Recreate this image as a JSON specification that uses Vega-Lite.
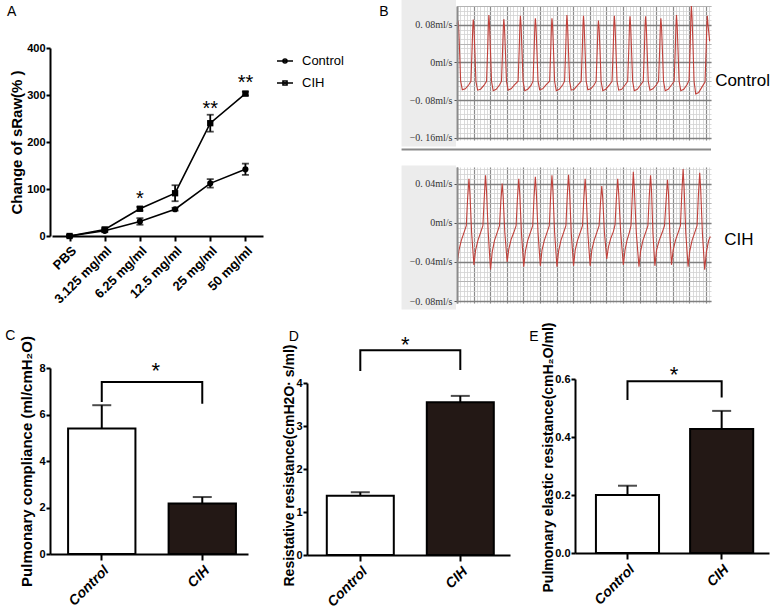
{
"$schema":"https://vega.github.io/schema/vega-lite/v6.json",
"width":780,"height":612,"autosize":"none","padding":0,"background":"white",
"config":{"view":{"stroke":null},"font":"Liberation Sans",
 "axis":{"domainColor":"black","domainWidth":2,"tickColor":"black","tickWidth":2,"labelColor":"black","titleColor":"black","labelFontWeight":"bold","titleFontWeight":"bold","labelFont":"Liberation Sans","titleFont":"Liberation Sans","grid":false,"labelOverlap":false,"labelFlush":false,"labelBound":false,"tickSize":5,"labelPadding":2},
 "text":{"font":"Liberation Sans","color":"black"}},
"datasets":{
 "sraw":[
  {"dose":"PBS","group":"Control","mean":0,"lo":-2,"hi":2},
  {"dose":"3.125 mg/ml","group":"Control","mean":11,"lo":8,"hi":14},
  {"dose":"6.25 mg/ml","group":"Control","mean":31,"lo":24,"hi":38},
  {"dose":"12.5 mg/ml","group":"Control","mean":57,"lo":54,"hi":60},
  {"dose":"25 mg/ml","group":"Control","mean":112,"lo":103,"hi":121},
  {"dose":"50 mg/ml","group":"Control","mean":142,"lo":130,"hi":154},
  {"dose":"PBS","group":"CIH","mean":0,"lo":-2,"hi":2},
  {"dose":"3.125 mg/ml","group":"CIH","mean":14,"lo":11,"hi":17},
  {"dose":"6.25 mg/ml","group":"CIH","mean":58,"lo":54,"hi":62},
  {"dose":"12.5 mg/ml","group":"CIH","mean":91,"lo":74,"hi":108},
  {"dose":"25 mg/ml","group":"CIH","mean":240,"lo":222,"hi":258},
  {"dose":"50 mg/ml","group":"CIH","mean":303,"lo":299,"hi":307}],
 "stars":[{"dose":"6.25 mg/ml","lab":"*","v":67},{"dose":"25 mg/ml","lab":"**","v":257},{"dose":"50 mg/ml","lab":"**","v":312}],
 "ctrl":[
  {"t":0,"v":0.082},{"t":0.3,"v":0.089},{"t":0.5,"v":0.075},{"t":0.8,"v":0.02},{"t":1.1,"v":-0.04},{"t":1.6,"v":-0.058},{"t":2.5,"v":-0.056},{"t":3.5,"v":-0.048},
  {"t":4.2,"v":-0.04},{"t":4.55,"v":0.03},{"t":4.75,"v":0.075},{"t":4.9,"v":0.091},{"t":5.1,"v":0.075},{"t":5.4,"v":0.02},{"t":5.7,"v":-0.04},{"t":6.2,"v":-0.059},{"t":7.1,"v":-0.057},{"t":8.1,"v":-0.049},
  {"t":8.9,"v":-0.04},{"t":9.25,"v":0.03},{"t":9.45,"v":0.08},{"t":9.6,"v":0.101},{"t":9.8,"v":0.08},{"t":10.1,"v":0.02},{"t":10.4,"v":-0.04},{"t":10.9,"v":-0.06},{"t":11.8,"v":-0.057},{"t":12.8,"v":-0.048},
  {"t":13.4,"v":-0.04},{"t":13.75,"v":0.03},{"t":13.95,"v":0.075},{"t":14.1,"v":0.092},{"t":14.3,"v":0.075},{"t":14.6,"v":0.02},{"t":14.9,"v":-0.04},{"t":15.4,"v":-0.059},{"t":16.3,"v":-0.056},{"t":17.3,"v":-0.048},
  {"t":18.4,"v":-0.04},{"t":18.75,"v":0.03},{"t":18.95,"v":0.08},{"t":19.1,"v":0.099},{"t":19.3,"v":0.078},{"t":19.6,"v":0.02},{"t":19.9,"v":-0.04},{"t":20.4,"v":-0.06},{"t":21.3,"v":-0.057},{"t":22.3,"v":-0.049},
  {"t":22.9,"v":-0.04},{"t":23.25,"v":0.03},{"t":23.45,"v":0.077},{"t":23.6,"v":0.094},{"t":23.8,"v":0.076},{"t":24.1,"v":0.02},{"t":24.4,"v":-0.04},{"t":24.9,"v":-0.058},{"t":25.8,"v":-0.056},{"t":26.8,"v":-0.048},
  {"t":27.9,"v":-0.04},{"t":28.25,"v":0.03},{"t":28.45,"v":0.077},{"t":28.6,"v":0.094},{"t":28.8,"v":0.076},{"t":29.1,"v":0.02},{"t":29.4,"v":-0.04},{"t":29.9,"v":-0.06},{"t":30.8,"v":-0.057},{"t":31.8,"v":-0.048},
  {"t":32.4,"v":-0.04},{"t":32.75,"v":0.03},{"t":32.95,"v":0.08},{"t":33.1,"v":0.101},{"t":33.3,"v":0.08},{"t":33.6,"v":0.02},{"t":33.9,"v":-0.04},{"t":34.4,"v":-0.059},{"t":35.3,"v":-0.057},{"t":36.3,"v":-0.049},
  {"t":37.4,"v":-0.04},{"t":37.75,"v":0.03},{"t":37.95,"v":0.08},{"t":38.1,"v":0.099},{"t":38.3,"v":0.078},{"t":38.6,"v":0.02},{"t":38.9,"v":-0.04},{"t":39.4,"v":-0.058},{"t":40.3,"v":-0.056},{"t":41.3,"v":-0.048},
  {"t":41.9,"v":-0.04},{"t":42.25,"v":0.03},{"t":42.45,"v":0.074},{"t":42.6,"v":0.089},{"t":42.8,"v":0.073},{"t":43.1,"v":0.02},{"t":43.4,"v":-0.04},{"t":43.9,"v":-0.06},{"t":44.8,"v":-0.057},{"t":45.8,"v":-0.049},
  {"t":46.7,"v":-0.04},{"t":47.05,"v":0.03},{"t":47.25,"v":0.08},{"t":47.4,"v":0.099},{"t":47.6,"v":0.078},{"t":47.9,"v":0.02},{"t":48.2,"v":-0.04},{"t":48.7,"v":-0.059},{"t":49.6,"v":-0.057},{"t":50.6,"v":-0.048},
  {"t":51.4,"v":-0.04},{"t":51.75,"v":0.03},{"t":51.95,"v":0.08},{"t":52.1,"v":0.098},{"t":52.3,"v":0.078},{"t":52.6,"v":0.02},{"t":52.9,"v":-0.04},{"t":53.4,"v":-0.06},{"t":54.3,"v":-0.057},{"t":55.3,"v":-0.048},
  {"t":56.1,"v":-0.04},{"t":56.45,"v":0.03},{"t":56.65,"v":0.08},{"t":56.8,"v":0.098},{"t":57,"v":0.078},{"t":57.3,"v":0.02},{"t":57.6,"v":-0.04},{"t":58.1,"v":-0.059},{"t":59,"v":-0.056},{"t":60,"v":-0.048},
  {"t":60.7,"v":-0.04},{"t":61.05,"v":0.03},{"t":61.25,"v":0.077},{"t":61.4,"v":0.094},{"t":61.6,"v":0.076},{"t":61.9,"v":0.02},{"t":62.2,"v":-0.04},{"t":62.7,"v":-0.06},{"t":63.6,"v":-0.057},{"t":64.6,"v":-0.048},
  {"t":65.4,"v":-0.04},{"t":65.75,"v":0.03},{"t":65.95,"v":0.08},{"t":66.1,"v":0.101},{"t":66.3,"v":0.08},{"t":66.6,"v":0.02},{"t":66.9,"v":-0.04},{"t":67.4,"v":-0.06},{"t":68.3,"v":-0.057},{"t":69.3,"v":-0.047},
  {"t":69.9,"v":-0.038},{"t":70.25,"v":0.04},{"t":70.45,"v":0.1},{"t":70.6,"v":0.12},{"t":70.8,"v":0.095},{"t":71.1,"v":0.03},{"t":71.4,"v":-0.04},{"t":71.9,"v":-0.067},{"t":72.8,"v":-0.064},{"t":73.8,"v":-0.052},
  {"t":74.7,"v":-0.042},{"t":75.05,"v":0.03},{"t":75.25,"v":0.08},{"t":75.4,"v":0.099},{"t":75.6,"v":0.08},{"t":76.1,"v":0.045}],
 "cih":[
  {"t":0,"v":-0.04},{"t":0.1,"v":-0.041},{"t":0.6,"v":-0.028},{"t":1.3,"v":-0.018},{"t":2.1,"v":-0.01},{"t":2.8,"v":-0.003},{"t":3.2,"v":0.025},{"t":3.6,"v":0.045},{"t":3.9,"v":0.03},{"t":4.4,"v":-0.01},
  {"t":5.1,"v":-0.043},{"t":5.6,"v":-0.028},{"t":6.3,"v":-0.018},{"t":7.1,"v":-0.01},{"t":7.8,"v":-0.003},{"t":8.2,"v":0.025},{"t":8.6,"v":0.0485},{"t":8.9,"v":0.032},{"t":9.4,"v":-0.01},
  {"t":10.1,"v":-0.048},{"t":10.6,"v":-0.03},{"t":11.3,"v":-0.018},{"t":12.1,"v":-0.01},{"t":12.8,"v":-0.003},{"t":13.2,"v":0.022},{"t":13.6,"v":0.04},{"t":13.9,"v":0.027},{"t":14.4,"v":-0.01},
  {"t":15.1,"v":-0.04},{"t":15.6,"v":-0.027},{"t":16.3,"v":-0.017},{"t":17.1,"v":-0.01},{"t":17.8,"v":-0.003},{"t":18.2,"v":0.025},{"t":18.6,"v":0.045},{"t":18.9,"v":0.03},{"t":19.4,"v":-0.01},
  {"t":20.1,"v":-0.045},{"t":20.6,"v":-0.029},{"t":21.3,"v":-0.018},{"t":22.1,"v":-0.01},{"t":22.8,"v":-0.003},{"t":23.2,"v":0.026},{"t":23.6,"v":0.047},{"t":23.9,"v":0.031},{"t":24.4,"v":-0.01},
  {"t":25.1,"v":-0.044},{"t":25.6,"v":-0.028},{"t":26.3,"v":-0.018},{"t":27.1,"v":-0.01},{"t":27.8,"v":-0.003},{"t":28.2,"v":0.027},{"t":28.6,"v":0.0485},{"t":28.9,"v":0.032},{"t":29.4,"v":-0.01},
  {"t":30.1,"v":-0.045},{"t":30.6,"v":-0.029},{"t":31.3,"v":-0.018},{"t":32.1,"v":-0.01},{"t":32.8,"v":-0.003},{"t":33.2,"v":0.027},{"t":33.6,"v":0.049},{"t":33.9,"v":0.033},{"t":34.4,"v":-0.01},
  {"t":35.1,"v":-0.044},{"t":35.6,"v":-0.028},{"t":36.3,"v":-0.018},{"t":37.1,"v":-0.01},{"t":37.8,"v":-0.003},{"t":38.2,"v":0.025},{"t":38.6,"v":0.045},{"t":38.9,"v":0.03},{"t":39.4,"v":-0.01},
  {"t":40.1,"v":-0.044},{"t":40.6,"v":-0.028},{"t":41.3,"v":-0.018},{"t":42.1,"v":-0.01},{"t":42.8,"v":-0.003},{"t":43.2,"v":0.02},{"t":43.6,"v":0.0376},{"t":43.9,"v":0.025},{"t":44.4,"v":-0.01},
  {"t":45.1,"v":-0.037},{"t":45.6,"v":-0.025},{"t":46.3,"v":-0.016},{"t":47.1,"v":-0.009},{"t":47.6,"v":-0.002},{"t":48,"v":0.025},{"t":48.4,"v":0.045},{"t":48.7,"v":0.03},{"t":49.3,"v":-0.01},
  {"t":50.1,"v":-0.043},{"t":50.6,"v":-0.028},{"t":51.2,"v":-0.018},{"t":51.9,"v":-0.01},{"t":52.4,"v":-0.003},{"t":52.8,"v":0.028},{"t":53.1,"v":0.052},{"t":53.4,"v":0.035},{"t":54,"v":-0.01},
  {"t":54.8,"v":-0.045},{"t":55.3,"v":-0.029},{"t":56,"v":-0.018},{"t":56.8,"v":-0.01},{"t":57.5,"v":-0.003},{"t":57.9,"v":0.027},{"t":58.3,"v":0.0485},{"t":58.6,"v":0.032},{"t":59,"v":-0.01},
  {"t":59.6,"v":-0.044},{"t":60.1,"v":-0.028},{"t":60.9,"v":-0.018},{"t":61.8,"v":-0.01},{"t":62.5,"v":-0.003},{"t":63,"v":0.024},{"t":63.4,"v":0.044},{"t":63.7,"v":0.03},{"t":64.1,"v":-0.01},
  {"t":64.6,"v":-0.043},{"t":65.1,"v":-0.028},{"t":65.8,"v":-0.018},{"t":66.6,"v":-0.01},{"t":67.3,"v":-0.003},{"t":67.7,"v":0.03},{"t":68.1,"v":0.055},{"t":68.4,"v":0.036},{"t":68.9,"v":-0.01},
  {"t":69.6,"v":-0.045},{"t":70.1,"v":-0.029},{"t":70.8,"v":-0.018},{"t":71.6,"v":-0.01},{"t":72.3,"v":-0.003},{"t":72.7,"v":0.028},{"t":73.1,"v":0.051},{"t":73.4,"v":0.034},{"t":73.9,"v":-0.01},
  {"t":74.6,"v":-0.048},{"t":75.1,"v":-0.03},{"t":75.8,"v":-0.018},{"t":76.3,"v":-0.014}],
 "compl":[{"g":"Control","mean":5.4,"hi":6.4},{"g":"CIH","mean":2.17,"hi":2.45}],
 "brC":[{"g":"Control","v":6.54,"o":1},{"g":"Control","v":7.4,"o":2},{"g":"CIH","v":7.4,"o":3},{"g":"CIH","v":6.46,"o":4}],
 "resist":[{"g":"Control","mean":1.38,"hi":1.46},{"g":"CIH","mean":3.55,"hi":3.7}],
 "brD":[{"g":"Control","v":4.28,"o":1},{"g":"Control","v":4.76,"o":2},{"g":"CIH","v":4.76,"o":3},{"g":"CIH","v":4.3,"o":4}],
 "elast":[{"g":"Control","mean":0.2,"hi":0.232},{"g":"CIH","mean":0.428,"hi":0.49}],
 "brE":[{"g":"Control","v":0.528,"o":1},{"g":"Control","v":0.592,"o":2},{"g":"CIH","v":0.592,"o":3},{"g":"CIH","v":0.536,"o":4}]
},
"resolve":{"scale":{"x":"independent","y":"independent"},"axis":{"x":"independent","y":"independent"}},
"layer":[
 {"resolve":{"axis":{"x":"independent","y":"independent"}},
  "layer":[
  {"data":{"name":"sraw"},"mark":{"type":"line","color":"black","strokeWidth":1.6},
   "encoding":{
    "x":{"field":"dose","type":"ordinal","scale":{"type":"point","domain":["PBS","3.125 mg/ml","6.25 mg/ml","12.5 mg/ml","25 mg/ml","50 mg/ml"],"range":[52,263],"padding":0.5},
         "axis":{"orient":"bottom","offset":-376,"title":null,"labelAngle":-45,"labelFontSize":13,"tickSize":5,"labelPadding":3}},
    "y":{"field":"mean","type":"quantitative","scale":{"domain":[0,400],"range":[236,48],"nice":false,"zero":false},
         "axis":{"orient":"left","offset":-50,"values":[0,100,200,300,400],"title":"Change of sRaw(% )","titleFontSize":15,"titlePadding":2,"labelFontSize":11,"labelFont":"Liberation Sans Narrow, Liberation Sans","tickSize":4,"labelPadding":1}},
    "detail":{"field":"group"}}},
  {"data":{"name":"sraw"},"mark":{"type":"rule","color":"black","strokeWidth":1.8},
   "encoding":{
    "x":{"field":"dose","type":"ordinal","scale":{"type":"point","domain":["PBS","3.125 mg/ml","6.25 mg/ml","12.5 mg/ml","25 mg/ml","50 mg/ml"],"range":[52,263],"padding":0.5},"axis":null},
    "y":{"field":"lo","type":"quantitative","scale":{"domain":[0,400],"range":[236,48],"nice":false,"zero":false},"axis":null},
    "y2":{"field":"hi"}}},
  {"data":{"name":"sraw"},"mark":{"type":"tick","color":"black","thickness":1.8,"size":7},
   "encoding":{
    "x":{"field":"dose","type":"ordinal","scale":{"type":"point","domain":["PBS","3.125 mg/ml","6.25 mg/ml","12.5 mg/ml","25 mg/ml","50 mg/ml"],"range":[52,263],"padding":0.5},"axis":null},
    "y":{"field":"lo","type":"quantitative","scale":{"domain":[0,400],"range":[236,48],"nice":false,"zero":false},"axis":null}}},
  {"data":{"name":"sraw"},"mark":{"type":"tick","color":"black","thickness":1.8,"size":7},
   "encoding":{
    "x":{"field":"dose","type":"ordinal","scale":{"type":"point","domain":["PBS","3.125 mg/ml","6.25 mg/ml","12.5 mg/ml","25 mg/ml","50 mg/ml"],"range":[52,263],"padding":0.5},"axis":null},
    "y":{"field":"hi","type":"quantitative","scale":{"domain":[0,400],"range":[236,48],"nice":false,"zero":false},"axis":null}}},
  {"data":{"name":"sraw"},"transform":[{"filter":"datum.group === 'Control'"}],"mark":{"type":"point","shape":"circle","filled":true,"color":"black","size":38,"opacity":1},
   "encoding":{
    "x":{"field":"dose","type":"ordinal","scale":{"type":"point","domain":["PBS","3.125 mg/ml","6.25 mg/ml","12.5 mg/ml","25 mg/ml","50 mg/ml"],"range":[52,263],"padding":0.5},"axis":null},
    "y":{"field":"mean","type":"quantitative","scale":{"domain":[0,400],"range":[236,48],"nice":false,"zero":false},"axis":null}}},
  {"data":{"name":"sraw"},"transform":[{"filter":"datum.group === 'CIH'"}],"mark":{"type":"point","shape":"square","filled":true,"color":"black","size":40,"opacity":1},
   "encoding":{
    "x":{"field":"dose","type":"ordinal","scale":{"type":"point","domain":["PBS","3.125 mg/ml","6.25 mg/ml","12.5 mg/ml","25 mg/ml","50 mg/ml"],"range":[52,263],"padding":0.5},"axis":null},
    "y":{"field":"mean","type":"quantitative","scale":{"domain":[0,400],"range":[236,48],"nice":false,"zero":false},"axis":null}}},
  {"data":{"name":"sraw"},"transform":[{"filter":"false"}],"mark":{"type":"point","filled":false,"color":"black","strokeWidth":1.6,"opacity":1},
   "encoding":{
    "x":{"field":"dose","type":"ordinal","scale":{"type":"point","domain":["PBS","3.125 mg/ml","6.25 mg/ml","12.5 mg/ml","25 mg/ml","50 mg/ml"],"range":[52,263],"padding":0.5},"axis":null},
    "y":{"field":"mean","type":"quantitative","scale":{"domain":[0,400],"range":[236,48],"nice":false,"zero":false},"axis":null},
    "shape":{"field":"group","type":"nominal","scale":{"domain":["Control","CIH"],"range":["M-1,0H1M0.25,0A0.25,0.25,0,1,1,-0.25,0A0.25,0.25,0,1,1,0.25,0M0,-0.12V0.12","M-1,0H1M-0.25,-0.25H0.25V0.25H-0.25ZM0,-0.12V0.12"]},
      "legend":{"orient":"none","legendX":276,"legendY":52,"title":null,"labelFont":"Liberation Sans","labelFontSize":13,"labelFontWeight":"normal","labelColor":"black","symbolSize":256,"symbolStrokeWidth":1.6,"symbolStrokeColor":"black","symbolOpacity":1,"labelOffset":8,"rowPadding":6}}}},
  {"data":{"name":"stars"},"mark":{"type":"text","fontSize":20,"align":"center","baseline":"alphabetic"},
   "encoding":{
    "x":{"field":"dose","type":"ordinal","scale":{"type":"point","domain":["PBS","3.125 mg/ml","6.25 mg/ml","12.5 mg/ml","25 mg/ml","50 mg/ml"],"range":[52,263],"padding":0.5},"axis":null},
    "y":{"field":"v","type":"quantitative","scale":{"domain":[0,400],"range":[236,48],"nice":false,"zero":false},"axis":null},
    "text":{"field":"lab"}}},
  {"data":{"values":[{}]},"mark":{"type":"text","text":"A","fontSize":14,"dx":-58,"align":"center","baseline":"middle"},
   "encoding":{
    "x":{"datum":"PBS","type":"ordinal","scale":{"type":"point","domain":["PBS","3.125 mg/ml","6.25 mg/ml","12.5 mg/ml","25 mg/ml","50 mg/ml"],"range":[52,263],"padding":0.5},"axis":null},
    "y":{"datum":476,"type":"quantitative","scale":{"domain":[0,400],"range":[236,48],"nice":false,"zero":false},"axis":null}}}
 ]},
 {"resolve":{"axis":{"x":"independent","y":"independent"}},
  "layer":[
  {"data":{"values":[{}]},"mark":{"type":"rect","color":"#ececec"},
   "encoding":{"x":{"datum":-16.7,"type":"quantitative","scale":{"domain":[0,76.5],"range":[457,711],"nice":false,"zero":false},"axis":null},"x2":{"datum":-0.3},
    "y":{"datum":0.133,"type":"quantitative","scale":{"domain":[-0.165,0.12],"range":[140,6],"nice":false,"zero":false},"axis":null},"y2":{"datum":-0.179}}},
  {"data":{"values":[{}]},"mark":{"type":"point","opacity":0},
   "encoding":{"x":{"datum":0,"type":"quantitative","scale":{"domain":[0,76.5],"range":[457,711],"nice":false,"zero":false},
     "axis":{"orient":"top","offset":0,"grid":true,"gridColor":"#d2d2d2","gridWidth":0.8,"domain":false,"ticks":false,"labels":false,"title":null,
      "values":[0,1,2,3,4,5,6,7,8,9,10,11,12,13,14,15,16,17,18,19,20,21,22,23,24,25,26,27,28,29,30,31,32,33,34,35,36,37,38,39,40,41,42,43,44,45,46,47,48,49,50,51,52,53,54,55,56,57,58,59,60,61,62,63,64,65,66,67,68,69,70,71,72,73,74,75,76]}},
    "y":{"datum":0,"type":"quantitative","scale":{"domain":[-0.165,0.12],"range":[140,6],"nice":false,"zero":false},
     "axis":{"orient":"left","offset":-457,"grid":true,"gridColor":"#d2d2d2","gridWidth":0.8,"domain":false,"ticks":false,"labels":false,"title":null,
      "values":[-0.16,-0.15,-0.14,-0.13,-0.12,-0.11,-0.1,-0.09,-0.08,-0.07,-0.06,-0.05,-0.04,-0.03,-0.02,-0.01,0,0.01,0.02,0.03,0.04,0.05,0.06,0.07,0.08,0.09,0.1,0.11,0.12]}}}},
  {"data":{"values":[{}]},"mark":{"type":"point","opacity":0},
   "encoding":{"x":{"datum":0,"type":"quantitative","scale":{"domain":[0,76.5],"range":[457,711],"nice":false,"zero":false},"axis":null},
    "y":{"datum":0,"type":"quantitative","scale":{"domain":[-0.165,0.12],"range":[140,6],"nice":false,"zero":false},
     "axis":{"orient":"left","offset":-457,"grid":true,"gridColor":"#b4b4b4","gridWidth":1,"domain":false,"ticks":false,"labels":false,"title":null,"values":[-0.12,-0.04,0.04,0.12]}}}},
  {"data":{"values":[{}]},"mark":{"type":"point","opacity":0},
   "encoding":{"x":{"datum":0,"type":"quantitative","scale":{"domain":[0,76.5],"range":[457,711],"nice":false,"zero":false},
     "axis":{"orient":"top","offset":0,"grid":true,"gridColor":"#8c8c8c","gridWidth":1.2,"domain":false,"ticks":false,"labels":false,"title":null,"values":[0,5,10,15,20,25,30,35,40,45,50,55,60,65,70,75]}},
    "y":{"datum":0,"type":"quantitative","scale":{"domain":[-0.165,0.12],"range":[140,6],"nice":false,"zero":false},
     "axis":{"orient":"left","offset":-457,"grid":true,"gridColor":"#808080","gridWidth":1.3,"domain":false,"ticks":false,"labels":false,"title":null,"values":[-0.16,-0.08,0,0.08]}}}},
  {"data":{"name":"ctrl"},"mark":{"type":"line","color":"#c0403a","strokeWidth":1.1},
   "encoding":{"x":{"field":"t","type":"quantitative","scale":{"domain":[0,76.5],"range":[457,711],"nice":false,"zero":false},"axis":null},
    "y":{"field":"v","type":"quantitative","scale":{"domain":[-0.165,0.12],"range":[140,6],"nice":false,"zero":false},
     "axis":{"orient":"left","offset":-457,"zindex":1,"values":[-0.16,-0.08,0,0.08],"title":null,"labelFont":"Liberation Serif","labelFontWeight":"normal","labelFontSize":10,"labelColor":"#333333","tickColor":"#555555","tickWidth":1,"tickSize":3,"labelPadding":2,"domainColor":"#8a8a8a","domainWidth":2,
      "labelExpr":"datum.value == 0 ? '0ml/s' : replace(format(datum.value, '.2f'), '.', '. ') + 'ml/s'"}}}},
  {"data":{"values":[{}]},"mark":{"type":"rule","color":"#8a8a8a","strokeWidth":2},
   "encoding":{"x":{"datum":-16.7,"type":"quantitative","scale":{"domain":[0,76.5],"range":[457,711],"nice":false,"zero":false},"axis":null},"x2":{"datum":76.5},
    "y":{"datum":-0.1854,"type":"quantitative","scale":{"domain":[-0.165,0.12],"range":[140,6],"nice":false,"zero":false},"axis":null}}},
  {"data":{"values":[{}]},"mark":{"type":"text","text":"Control","fontSize":17,"align":"center","baseline":"middle"},
   "encoding":{"x":{"datum":86,"type":"quantitative","scale":{"domain":[0,76.5],"range":[457,711],"nice":false,"zero":false},"axis":null},
    "y":{"datum":-0.039,"type":"quantitative","scale":{"domain":[-0.165,0.12],"range":[140,6],"nice":false,"zero":false},"axis":null}}},
  {"data":{"values":[{}]},"mark":{"type":"text","text":"B","fontSize":14,"align":"center","baseline":"middle"},
   "encoding":{"x":{"datum":-22,"type":"quantitative","scale":{"domain":[0,76.5],"range":[457,711],"nice":false,"zero":false},"axis":null},
    "y":{"datum":0.1066,"type":"quantitative","scale":{"domain":[-0.165,0.12],"range":[140,6],"nice":false,"zero":false},"axis":null}}}
 ]},
 {"resolve":{"axis":{"x":"independent","y":"independent"}},
  "layer":[
  {"data":{"values":[{}]},"mark":{"type":"rect","color":"#ececec"},
   "encoding":{"x":{"datum":-16.7,"type":"quantitative","scale":{"domain":[0,76.5],"range":[457,711],"nice":false,"zero":false},"axis":null},"x2":{"datum":-0.3},
    "y":{"datum":0.0586,"type":"quantitative","scale":{"domain":[-0.082,0.057],"range":[303,167],"nice":false,"zero":false},"axis":null},"y2":{"datum":-0.0886}}},
  {"data":{"values":[{}]},"mark":{"type":"point","opacity":0},
   "encoding":{"x":{"datum":0,"type":"quantitative","scale":{"domain":[0,76.5],"range":[457,711],"nice":false,"zero":false},
     "axis":{"orient":"top","offset":0,"grid":true,"gridColor":"#d2d2d2","gridWidth":0.8,"domain":false,"ticks":false,"labels":false,"title":null,
      "values":[0,1,2,3,4,5,6,7,8,9,10,11,12,13,14,15,16,17,18,19,20,21,22,23,24,25,26,27,28,29,30,31,32,33,34,35,36,37,38,39,40,41,42,43,44,45,46,47,48,49,50,51,52,53,54,55,56,57,58,59,60,61,62,63,64,65,66,67,68,69,70,71,72,73,74,75,76]}},
    "y":{"datum":0,"type":"quantitative","scale":{"domain":[-0.082,0.057],"range":[303,167],"nice":false,"zero":false},
     "axis":{"orient":"left","offset":-457,"grid":true,"gridColor":"#d2d2d2","gridWidth":0.8,"domain":false,"ticks":false,"labels":false,"title":null,
      "values":[-0.08,-0.075,-0.07,-0.065,-0.06,-0.055,-0.05,-0.045,-0.04,-0.035,-0.03,-0.025,-0.02,-0.015,-0.01,-0.005,0,0.005,0.01,0.015,0.02,0.025,0.03,0.035,0.04,0.045,0.05,0.055]}}}},
  {"data":{"values":[{}]},"mark":{"type":"point","opacity":0},
   "encoding":{"x":{"datum":0,"type":"quantitative","scale":{"domain":[0,76.5],"range":[457,711],"nice":false,"zero":false},"axis":null},
    "y":{"datum":0,"type":"quantitative","scale":{"domain":[-0.082,0.057],"range":[303,167],"nice":false,"zero":false},
     "axis":{"orient":"left","offset":-457,"grid":true,"gridColor":"#b4b4b4","gridWidth":1,"domain":false,"ticks":false,"labels":false,"title":null,"values":[-0.06,-0.02,0.02]}}}},
  {"data":{"values":[{}]},"mark":{"type":"point","opacity":0},
   "encoding":{"x":{"datum":0,"type":"quantitative","scale":{"domain":[0,76.5],"range":[457,711],"nice":false,"zero":false},
     "axis":{"orient":"top","offset":0,"grid":true,"gridColor":"#8c8c8c","gridWidth":1.2,"domain":false,"ticks":false,"labels":false,"title":null,"values":[0,5,10,15,20,25,30,35,40,45,50,55,60,65,70,75]}},
    "y":{"datum":0,"type":"quantitative","scale":{"domain":[-0.082,0.057],"range":[303,167],"nice":false,"zero":false},
     "axis":{"orient":"left","offset":-457,"grid":true,"gridColor":"#808080","gridWidth":1.3,"domain":false,"ticks":false,"labels":false,"title":null,"values":[-0.08,-0.04,0,0.04]}}}},
  {"data":{"name":"cih"},"mark":{"type":"line","color":"#c0403a","strokeWidth":1.1},
   "encoding":{"x":{"field":"t","type":"quantitative","scale":{"domain":[0,76.5],"range":[457,711],"nice":false,"zero":false},"axis":null},
    "y":{"field":"v","type":"quantitative","scale":{"domain":[-0.082,0.057],"range":[303,167],"nice":false,"zero":false},
     "axis":{"orient":"left","offset":-457,"zindex":1,"values":[-0.08,-0.04,0,0.04],"title":null,"labelFont":"Liberation Serif","labelFontWeight":"normal","labelFontSize":10,"labelColor":"#333333","tickColor":"#555555","tickWidth":1,"tickSize":3,"labelPadding":2,"domainColor":"#8a8a8a","domainWidth":2,
      "labelExpr":"datum.value == 0 ? '0ml/s' : replace(format(datum.value, '.2f'), '.', '. ') + 'ml/s'"}}}},
  {"data":{"values":[{}]},"mark":{"type":"text","text":"CIH","fontSize":17,"align":"center","baseline":"middle"},
   "encoding":{"x":{"datum":84.9,"type":"quantitative","scale":{"domain":[0,76.5],"range":[457,711],"nice":false,"zero":false},"axis":null},
    "y":{"datum":-0.0176,"type":"quantitative","scale":{"domain":[-0.082,0.057],"range":[303,167],"nice":false,"zero":false},"axis":null}}}
 ]},
 {"resolve":{"axis":{"x":"independent","y":"independent"}},
  "layer":[
  {"data":{"name":"compl"},"mark":{"type":"bar","stroke":"black","strokeWidth":2},
   "encoding":{
    "x":{"field":"g","type":"nominal","scale":{"type":"band","domain":["Control","CIH"],"range":[50,248],"paddingInner":0.33,"paddingOuter":0.15,"align":0.6},
      "axis":{"orient":"bottom","offset":-58,"title":null,"labelAngle":-45,"labelFontStyle":"italic","labelFontSize":14,"tickSize":6,"labelPadding":3}},
    "y":{"field":"mean","type":"quantitative","scale":{"domain":[0,8],"range":[554,368],"nice":false,"zero":false},
      "axis":{"orient":"left","offset":-50,"values":[0,2,4,6,8],"title":"Pulmonary compliance (ml/cmH₂O)","titleFontSize":15,"titlePadding":4,"labelFontSize":11,"labelFont":"Liberation Sans Narrow, Liberation Sans","tickSize":4,"labelPadding":1}},
    "fill":{"condition":{"test":"datum.g === 'CIH'","value":"#231815"},"value":"white"}}},
  {"data":{"name":"compl"},"mark":{"type":"rule","color":"black","strokeWidth":2},
   "encoding":{
    "x":{"field":"g","type":"nominal","scale":{"type":"band","domain":["Control","CIH"],"range":[50,248],"paddingInner":0.33,"paddingOuter":0.15,"align":0.6},"axis":null},
    "y":{"field":"mean","type":"quantitative","scale":{"domain":[0,8],"range":[554,368],"nice":false,"zero":false},"axis":null},
    "y2":{"field":"hi"}}},
  {"data":{"name":"compl"},"mark":{"type":"tick","color":"black","thickness":2,"size":19},
   "encoding":{
    "x":{"field":"g","type":"nominal","scale":{"type":"band","domain":["Control","CIH"],"range":[50,248],"paddingInner":0.33,"paddingOuter":0.15,"align":0.6},"axis":null},
    "y":{"field":"hi","type":"quantitative","scale":{"domain":[0,8],"range":[554,368],"nice":false,"zero":false},"axis":null}}},
  {"data":{"name":"brC"},"mark":{"type":"line","color":"black","strokeWidth":2},
   "encoding":{
    "x":{"field":"g","type":"nominal","scale":{"type":"band","domain":["Control","CIH"],"range":[50,248],"paddingInner":0.33,"paddingOuter":0.15,"align":0.6},"axis":null},
    "y":{"field":"v","type":"quantitative","scale":{"domain":[0,8],"range":[554,368],"nice":false,"zero":false},"axis":null},
    "order":{"field":"o","type":"quantitative"}}},
  {"data":{"values":[{}]},"mark":{"type":"text","text":"*","fontSize":22,"dx":54,"align":"center","baseline":"alphabetic"},
   "encoding":{
    "x":{"datum":"Control","type":"nominal","scale":{"type":"band","domain":["Control","CIH"],"range":[50,248],"paddingInner":0.33,"paddingOuter":0.15,"align":0.6},"axis":null},
    "y":{"datum":7.58,"type":"quantitative","scale":{"domain":[0,8],"range":[554,368],"nice":false,"zero":false},"axis":null}}},
  {"data":{"values":[{}]},"mark":{"type":"text","text":"C","fontSize":14,"dx":-91.5,"align":"center","baseline":"middle"},
   "encoding":{
    "x":{"datum":"Control","type":"nominal","scale":{"type":"band","domain":["Control","CIH"],"range":[50,248],"paddingInner":0.33,"paddingOuter":0.15,"align":0.6},"axis":null},
    "y":{"datum":9.36,"type":"quantitative","scale":{"domain":[0,8],"range":[554,368],"nice":false,"zero":false},"axis":null}}}
 ]},
 {"resolve":{"axis":{"x":"independent","y":"independent"}},
  "layer":[
  {"data":{"name":"resist"},"mark":{"type":"bar","stroke":"black","strokeWidth":2},
   "encoding":{
    "x":{"field":"g","type":"nominal","scale":{"type":"band","domain":["Control","CIH"],"range":[307,510],"paddingInner":0.33,"paddingOuter":0.18,"align":0.55},
      "axis":{"orient":"bottom","offset":-57,"title":null,"labelAngle":-45,"labelFontStyle":"italic","labelFontSize":14,"tickSize":6,"labelPadding":3}},
    "y":{"field":"mean","type":"quantitative","scale":{"domain":[0,4],"range":[555,383],"nice":false,"zero":false},
      "axis":{"orient":"left","offset":-307,"values":[0,1,2,3,4],"title":"Resistative resistance(cmH2O· s/ml)","titleFontSize":14,"titlePadding":-1,"titleY":465,"labelFontSize":11,"labelFont":"Liberation Sans Narrow, Liberation Sans","tickSize":4,"labelPadding":1}},
    "fill":{"condition":{"test":"datum.g === 'CIH'","value":"#231815"},"value":"white"}}},
  {"data":{"name":"resist"},"mark":{"type":"rule","color":"black","strokeWidth":2},
   "encoding":{
    "x":{"field":"g","type":"nominal","scale":{"type":"band","domain":["Control","CIH"],"range":[307,510],"paddingInner":0.33,"paddingOuter":0.18,"align":0.55},"axis":null},
    "y":{"field":"mean","type":"quantitative","scale":{"domain":[0,4],"range":[555,383],"nice":false,"zero":false},"axis":null},
    "y2":{"field":"hi"}}},
  {"data":{"name":"resist"},"mark":{"type":"tick","color":"black","thickness":2,"size":19},
   "encoding":{
    "x":{"field":"g","type":"nominal","scale":{"type":"band","domain":["Control","CIH"],"range":[307,510],"paddingInner":0.33,"paddingOuter":0.18,"align":0.55},"axis":null},
    "y":{"field":"hi","type":"quantitative","scale":{"domain":[0,4],"range":[555,383],"nice":false,"zero":false},"axis":null}}},
  {"data":{"name":"brD"},"mark":{"type":"line","color":"black","strokeWidth":2},
   "encoding":{
    "x":{"field":"g","type":"nominal","scale":{"type":"band","domain":["Control","CIH"],"range":[307,510],"paddingInner":0.33,"paddingOuter":0.18,"align":0.55},"axis":null},
    "y":{"field":"v","type":"quantitative","scale":{"domain":[0,4],"range":[555,383],"nice":false,"zero":false},"axis":null},
    "order":{"field":"o","type":"quantitative"}}},
  {"data":{"values":[{}]},"mark":{"type":"text","text":"*","fontSize":22,"dx":45,"align":"center","baseline":"alphabetic"},
   "encoding":{
    "x":{"datum":"Control","type":"nominal","scale":{"type":"band","domain":["Control","CIH"],"range":[307,510],"paddingInner":0.33,"paddingOuter":0.18,"align":0.55},"axis":null},
    "y":{"datum":4.73,"type":"quantitative","scale":{"domain":[0,4],"range":[555,383],"nice":false,"zero":false},"axis":null}}},
  {"data":{"values":[{}]},"mark":{"type":"text","text":"D","fontSize":14,"dx":-66.5,"align":"center","baseline":"middle"},
   "encoding":{
    "x":{"datum":"Control","type":"nominal","scale":{"type":"band","domain":["Control","CIH"],"range":[307,510],"paddingInner":0.33,"paddingOuter":0.18,"align":0.55},"axis":null},
    "y":{"datum":5.06,"type":"quantitative","scale":{"domain":[0,4],"range":[555,383],"nice":false,"zero":false},"axis":null}}}
 ]},
 {"resolve":{"axis":{"x":"independent","y":"independent"}},
  "layer":[
  {"data":{"name":"elast"},"mark":{"type":"bar","stroke":"black","strokeWidth":2},
   "encoding":{
    "x":{"field":"g","type":"nominal","scale":{"type":"band","domain":["Control","CIH"],"range":[575,769],"paddingInner":0.33,"paddingOuter":0.195,"align":0.57},
      "axis":{"orient":"bottom","offset":-59,"title":null,"labelAngle":-45,"labelFontStyle":"italic","labelFontSize":14,"tickSize":6,"labelPadding":3}},
    "y":{"field":"mean","type":"quantitative","scale":{"domain":[0,0.6],"range":[553,379],"nice":false,"zero":false},
      "axis":{"orient":"left","offset":-575,"values":[0,0.2,0.4,0.6],"format":".1f","title":"Pulmonary elastic resistance(cmH₂O/ml)","titleFontSize":14,"titlePadding":-1,"titleY":457,"labelFontSize":11,"labelFont":"Liberation Sans Narrow, Liberation Sans","tickSize":4,"labelPadding":1}},
    "fill":{"condition":{"test":"datum.g === 'CIH'","value":"#231815"},"value":"white"}}},
  {"data":{"name":"elast"},"mark":{"type":"rule","color":"black","strokeWidth":2},
   "encoding":{
    "x":{"field":"g","type":"nominal","scale":{"type":"band","domain":["Control","CIH"],"range":[575,769],"paddingInner":0.33,"paddingOuter":0.195,"align":0.57},"axis":null},
    "y":{"field":"mean","type":"quantitative","scale":{"domain":[0,0.6],"range":[553,379],"nice":false,"zero":false},"axis":null},
    "y2":{"field":"hi"}}},
  {"data":{"name":"elast"},"mark":{"type":"tick","color":"black","thickness":2,"size":19},
   "encoding":{
    "x":{"field":"g","type":"nominal","scale":{"type":"band","domain":["Control","CIH"],"range":[575,769],"paddingInner":0.33,"paddingOuter":0.195,"align":0.57},"axis":null},
    "y":{"field":"hi","type":"quantitative","scale":{"domain":[0,0.6],"range":[553,379],"nice":false,"zero":false},"axis":null}}},
  {"data":{"name":"brE"},"mark":{"type":"line","color":"black","strokeWidth":2},
   "encoding":{
    "x":{"field":"g","type":"nominal","scale":{"type":"band","domain":["Control","CIH"],"range":[575,769],"paddingInner":0.33,"paddingOuter":0.195,"align":0.57},"axis":null},
    "y":{"field":"v","type":"quantitative","scale":{"domain":[0,0.6],"range":[553,379],"nice":false,"zero":false},"axis":null},
    "order":{"field":"o","type":"quantitative"}}},
  {"data":{"values":[{}]},"mark":{"type":"text","text":"*","fontSize":22,"dx":46.5,"align":"center","baseline":"alphabetic"},
   "encoding":{
    "x":{"datum":"Control","type":"nominal","scale":{"type":"band","domain":["Control","CIH"],"range":[575,769],"paddingInner":0.33,"paddingOuter":0.195,"align":0.57},"axis":null},
    "y":{"datum":0.588,"type":"quantitative","scale":{"domain":[0,0.6],"range":[553,379],"nice":false,"zero":false},"axis":null}}},
  {"data":{"values":[{}]},"mark":{"type":"text","text":"E","fontSize":14,"dx":-93.5,"align":"center","baseline":"middle"},
   "encoding":{
    "x":{"datum":"Control","type":"nominal","scale":{"type":"band","domain":["Control","CIH"],"range":[575,769],"paddingInner":0.33,"paddingOuter":0.195,"align":0.57},"axis":null},
    "y":{"datum":0.744,"type":"quantitative","scale":{"domain":[0,0.6],"range":[553,379],"nice":false,"zero":false},"axis":null}}}
 ]}
]
}
